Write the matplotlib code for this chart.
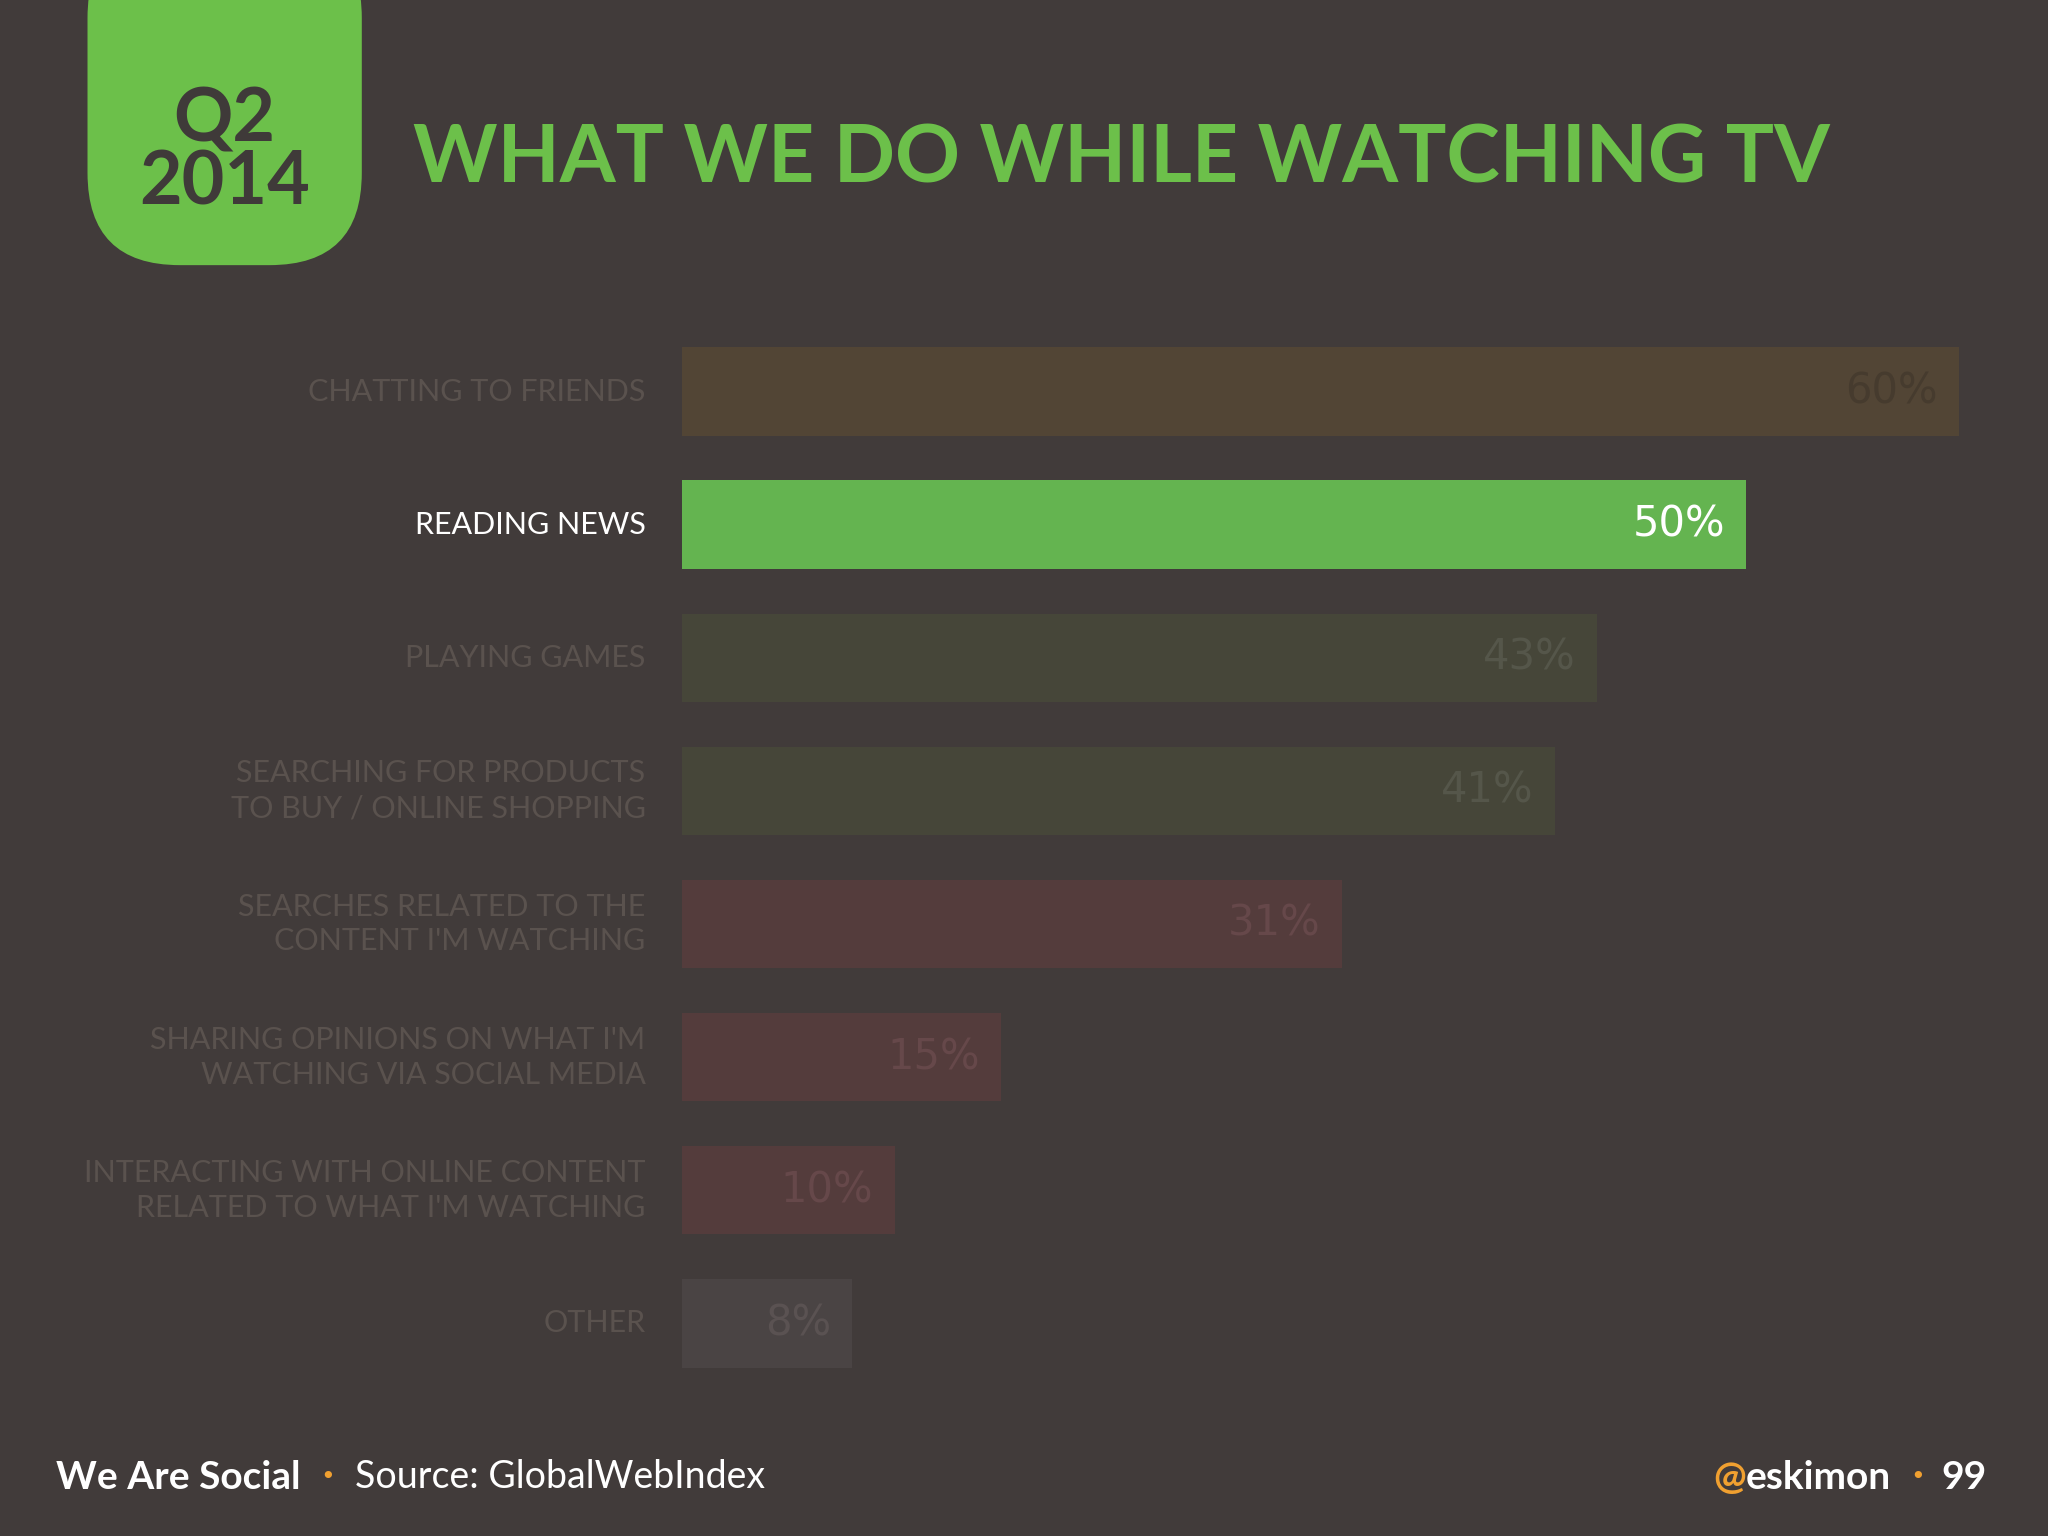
import matplotlib.pyplot as plt
from matplotlib.patches import FancyBboxPatch

categories = ["CHATTING TO FRIENDS", "READING NEWS", "PLAYING GAMES",
              "SEARCHING FOR PRODUCTS\nTO BUY / ONLINE SHOPPING",
              "SEARCHES RELATED TO THE\nCONTENT I'M WATCHING",
              "SHARING OPINIONS ON WHAT I'M\nWATCHING VIA SOCIAL MEDIA",
              "INTERACTING WITH ONLINE CONTENT\nRELATED TO WHAT I'M WATCHING",
              "OTHER"]
values = [60, 50, 43, 41, 31, 15, 10, 8]
bar_colors = ["#524535", "#64b450", "#464639", "#464639", "#543c3c", "#543c3c", "#543c3c", "#4a4444"]
value_colors = ["#463b2e", "#ffffff", "#55564a", "#55564a", "#66484a", "#66484a", "#66484a", "#5a5252"]
label_colors = ["#5a524e", "#ffffff", "#5a524e", "#5a524e", "#5a524e", "#5a524e", "#5a524e", "#5a524e"]

BG = "#413b3a"
GREEN = "#6cc04a"
ORANGE = "#f0a030"
W, H = 1568, 1176  # layout reference grid

fig = plt.figure(figsize=(20.48, 15.36), dpi=100, facecolor=BG)

# badge
badge = FancyBboxPatch((67 / W, 1 - 203 / H), 210 / W, 260 / H,
                       boxstyle="round,pad=0,rounding_size=0.045",
                       transform=fig.transFigure, facecolor=GREEN, edgecolor="none",
                       mutation_aspect=W / H)
fig.patches.append(badge)
fig.text(172 / W, 1 - 116 / H, "Q2\n2014", ha="center", va="center", fontsize=53,
         fontweight="bold", color="#3f3a39", family="Lato", linespacing=0.9)
fig.text(316 / W, 1 - 122 / H, "WHAT WE DO WHILE WATCHING TV", ha="left", va="center",
         fontsize=58, fontweight="bold", color=GREEN, family="Lato")

ax = fig.add_axes([522 / W, 1 - 1064 / H, (1500 - 522) / W, (1064 - 249) / H])
ax.set_facecolor(BG)
y = range(len(values))
ax.barh(y, values, height=0.667, color=bar_colors)
ax.set_xlim(0, 60)
ax.set_ylim(7.5, -0.5)
ax.axis("off")
for i, v in enumerate(values):
    ax.text(v - 1, i, f"{v}%", ha="right", va="center", fontsize=30,
            color=value_colors[i], family=["Liberation Sans Narrow", "DejaVu Sans"])
    ax.text(-1.7, i, categories[i], ha="right", va="center", fontsize=22,
            color=label_colors[i], family="Lato", linespacing=1.3)

# footer
fy = 1 - 1131 / H
fig.text(43 / W, fy, "We Are Social", ha="left", va="center", fontsize=28,
         fontweight="bold", color="white", family="Lato")
fig.text(251 / W, fy, "•", ha="center", va="center", fontsize=18, color=ORANGE)
fig.text(272 / W, fy, "Source: GlobalWebIndex", ha="left", va="center", fontsize=27,
         color="white", family="Lato")
fig.text(1521 / W, fy, "99", ha="right", va="center", fontsize=28,
         fontweight="bold", color="white", family="Lato")
fig.text(1468 / W, fy, "•", ha="center", va="center", fontsize=18, color=ORANGE)
t = fig.text(1448 / W, fy, "eskimon", ha="right", va="center", fontsize=28,
             fontweight="bold", color="white", family="Lato")
fig.canvas.draw()
bb = t.get_window_extent().transformed(fig.transFigure.inverted())
fig.text(bb.x0, fy, "@", ha="right", va="center", fontsize=28,
         fontweight="bold", color=ORANGE, family="Lato")

fig.savefig("out.png", dpi=100, facecolor=BG)
